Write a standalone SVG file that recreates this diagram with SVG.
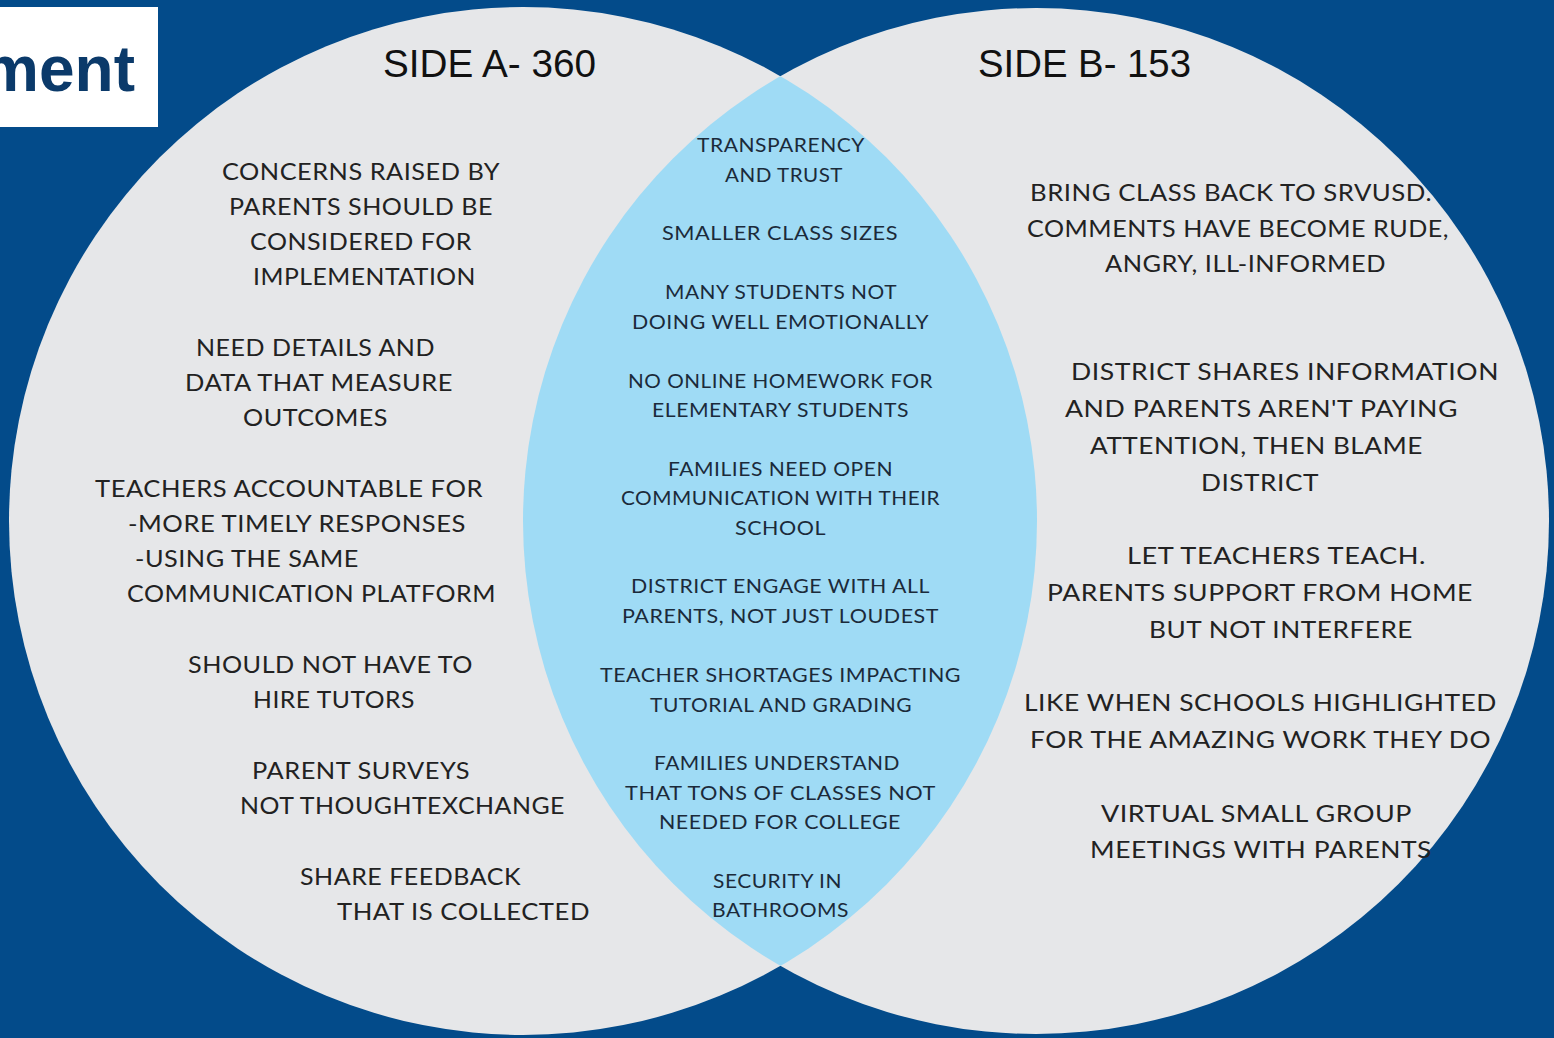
<svg xmlns="http://www.w3.org/2000/svg" width="1554" height="1038" viewBox="0 0 1554 1038">
  <style>
    .bg { fill: #034b8a; }
    .circle { fill: #e6e7e9; }
    .lens { fill: #9fdbf5; }
    .title { font-family: "Liberation Sans", Arial, sans-serif; font-size: 38px; fill: #111; }
    .side { font-family: Lato, "Noto Sans", sans-serif; font-size: 24px; fill: #222; letter-spacing: 0.5px; }
    .mid { font-family: Lato, "Noto Sans", sans-serif; font-size: 20px; fill: #1b2a3a; letter-spacing: 0.5px; }
    .head { font-family: "Liberation Sans", Arial, sans-serif; font-size: 64px; font-weight: bold; fill: #0b3a6a; }
  </style>
  <defs>
    <clipPath id="clipA">
      <circle cx="523" cy="521" r="514"/>
    </clipPath>
  </defs>

  <rect class="bg" x="0" y="0" width="1554" height="1038"/>

  <!-- Venn circles -->
  <g id="circle-a"><circle class="circle" cx="523" cy="521" r="514"/></g>
  <g id="circle-b"><circle class="circle" cx="1036" cy="521" r="513"/></g>
  <g id="overlap"><circle class="lens" cx="1036" cy="521" r="513" clip-path="url(#clipA)"/></g>

  <!-- heading box -->
  <g id="heading">
    <rect x="0" y="7" width="158" height="120" fill="#ffffff"/>
    <text class="head" x="135" y="91" text-anchor="end">ment</text>
  </g>

  <g id="titles">
    <text class="title" x="383" y="77" textLength="213" lengthAdjust="spacingAndGlyphs">SIDE A- 360</text>
    <text class="title" x="978" y="77" textLength="213" lengthAdjust="spacingAndGlyphs">SIDE B- 153</text>
  </g>

  <!-- Side A items -->
  <g id="side-a" class="side">
    <text x="222" y="180" textLength="278" lengthAdjust="spacingAndGlyphs">CONCERNS RAISED BY</text>
    <text x="229" y="215" textLength="264" lengthAdjust="spacingAndGlyphs">PARENTS SHOULD BE</text>
    <text x="250" y="250" textLength="222" lengthAdjust="spacingAndGlyphs">CONSIDERED FOR</text>
    <text x="253" y="285" textLength="223" lengthAdjust="spacingAndGlyphs">IMPLEMENTATION</text>

    <text x="196" y="356" textLength="239" lengthAdjust="spacingAndGlyphs">NEED DETAILS AND</text>
    <text x="185" y="391" textLength="268" lengthAdjust="spacingAndGlyphs">DATA THAT MEASURE</text>
    <text x="243" y="426" textLength="145" lengthAdjust="spacingAndGlyphs">OUTCOMES</text>

    <text x="95" y="497" textLength="388" lengthAdjust="spacingAndGlyphs">TEACHERS ACCOUNTABLE FOR</text>
    <text x="128" y="532" textLength="338" lengthAdjust="spacingAndGlyphs">-MORE TIMELY RESPONSES</text>
    <text x="135" y="567" textLength="224" lengthAdjust="spacingAndGlyphs">-USING THE SAME</text>
    <text x="127" y="602" textLength="369" lengthAdjust="spacingAndGlyphs">COMMUNICATION PLATFORM</text>

    <text x="188" y="673" textLength="285" lengthAdjust="spacingAndGlyphs">SHOULD NOT HAVE TO</text>
    <text x="253" y="708" textLength="162" lengthAdjust="spacingAndGlyphs">HIRE TUTORS</text>

    <text x="252" y="779" textLength="218" lengthAdjust="spacingAndGlyphs">PARENT SURVEYS</text>
    <text x="240" y="814" textLength="325" lengthAdjust="spacingAndGlyphs">NOT THOUGHTEXCHANGE</text>

    <text x="300" y="885" textLength="221" lengthAdjust="spacingAndGlyphs">SHARE FEEDBACK</text>
    <text x="337" y="920" textLength="253" lengthAdjust="spacingAndGlyphs">THAT IS COLLECTED</text>
  </g>

  <!-- Shared items -->
  <g id="shared" class="mid">
    <text x="697" y="152" textLength="168" lengthAdjust="spacingAndGlyphs">TRANSPARENCY</text>
    <text x="725" y="182" textLength="118" lengthAdjust="spacingAndGlyphs">AND TRUST</text>
    <text x="662" y="240" textLength="236" lengthAdjust="spacingAndGlyphs">SMALLER CLASS SIZES</text>
    <text x="665" y="299" textLength="232" lengthAdjust="spacingAndGlyphs">MANY STUDENTS NOT</text>
    <text x="632" y="329" textLength="297" lengthAdjust="spacingAndGlyphs">DOING WELL EMOTIONALLY</text>
    <text x="628" y="388" textLength="305" lengthAdjust="spacingAndGlyphs">NO ONLINE HOMEWORK FOR</text>
    <text x="652" y="417" textLength="257" lengthAdjust="spacingAndGlyphs">ELEMENTARY STUDENTS</text>
    <text x="668" y="476" textLength="225" lengthAdjust="spacingAndGlyphs">FAMILIES NEED OPEN</text>
    <text x="621" y="505" textLength="319" lengthAdjust="spacingAndGlyphs">COMMUNICATION WITH THEIR</text>
    <text x="735" y="535" textLength="91" lengthAdjust="spacingAndGlyphs">SCHOOL</text>
    <text x="631" y="593" textLength="299" lengthAdjust="spacingAndGlyphs">DISTRICT ENGAGE WITH ALL</text>
    <text x="622" y="623" textLength="317" lengthAdjust="spacingAndGlyphs">PARENTS, NOT JUST LOUDEST</text>
    <text x="600" y="682" textLength="361" lengthAdjust="spacingAndGlyphs">TEACHER SHORTAGES IMPACTING</text>
    <text x="650" y="712" textLength="262" lengthAdjust="spacingAndGlyphs">TUTORIAL AND GRADING</text>
    <text x="654" y="770" textLength="246" lengthAdjust="spacingAndGlyphs">FAMILIES UNDERSTAND</text>
    <text x="625" y="800" textLength="311" lengthAdjust="spacingAndGlyphs">THAT TONS OF CLASSES NOT</text>
    <text x="659" y="829" textLength="242" lengthAdjust="spacingAndGlyphs">NEEDED FOR COLLEGE</text>
    <text x="713" y="888" textLength="129" lengthAdjust="spacingAndGlyphs">SECURITY IN</text>
    <text x="712" y="917" textLength="137" lengthAdjust="spacingAndGlyphs">BATHROOMS</text>
  </g>

  <!-- Side B items -->
  <g id="side-b" class="side">
    <text x="1030" y="201" textLength="402" lengthAdjust="spacingAndGlyphs">BRING CLASS BACK TO SRVUSD.</text>
    <text x="1027" y="237" textLength="422" lengthAdjust="spacingAndGlyphs">COMMENTS HAVE BECOME RUDE,</text>
    <text x="1105" y="272" textLength="281" lengthAdjust="spacingAndGlyphs">ANGRY, ILL-INFORMED</text>

    <text x="1071" y="380" textLength="428" lengthAdjust="spacingAndGlyphs">DISTRICT SHARES INFORMATION</text>
    <text x="1065" y="417" textLength="393" lengthAdjust="spacingAndGlyphs">AND PARENTS AREN'T PAYING</text>
    <text x="1090" y="454" textLength="333" lengthAdjust="spacingAndGlyphs">ATTENTION, THEN BLAME</text>
    <text x="1201" y="491" textLength="118" lengthAdjust="spacingAndGlyphs">DISTRICT</text>

    <text x="1127" y="564" textLength="299" lengthAdjust="spacingAndGlyphs">LET TEACHERS TEACH.</text>
    <text x="1047" y="601" textLength="426" lengthAdjust="spacingAndGlyphs">PARENTS SUPPORT FROM HOME</text>
    <text x="1149" y="638" textLength="264" lengthAdjust="spacingAndGlyphs">BUT NOT INTERFERE</text>

    <text x="1024" y="711" textLength="473" lengthAdjust="spacingAndGlyphs">LIKE WHEN SCHOOLS HIGHLIGHTED</text>
    <text x="1030" y="748" textLength="461" lengthAdjust="spacingAndGlyphs">FOR THE AMAZING WORK THEY DO</text>

    <text x="1101" y="822" textLength="311" lengthAdjust="spacingAndGlyphs">VIRTUAL SMALL GROUP</text>
    <text x="1090" y="858" textLength="342" lengthAdjust="spacingAndGlyphs">MEETINGS WITH PARENTS</text>
  </g>
</svg>
